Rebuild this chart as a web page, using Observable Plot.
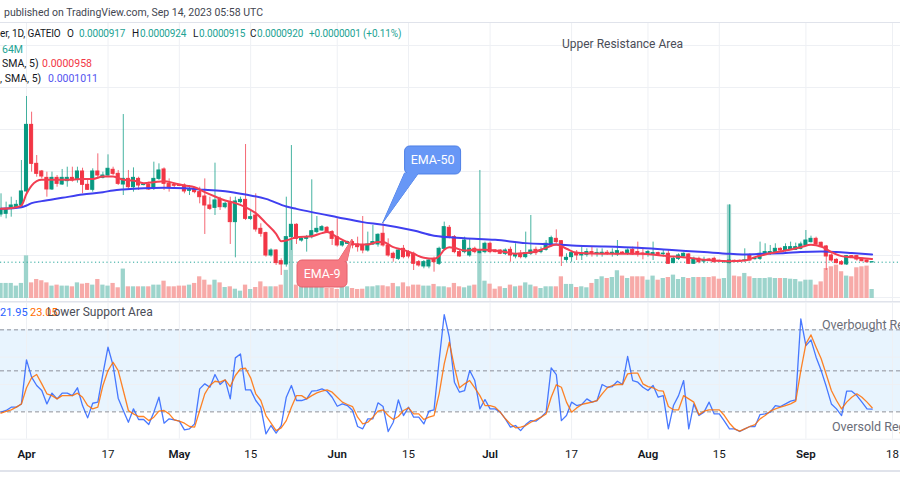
<!DOCTYPE html>
<html><head><meta charset="utf-8">
<script src="https://cdn.jsdelivr.net/npm/d3@7"></script>
<script src="https://cdn.jsdelivr.net/npm/@observablehq/plot@0.6"></script>
<style>
html,body{margin:0;padding:0;background:#fff}
#wrap{position:relative;width:900px;height:500px;overflow:hidden;font-family:Roboto,"Noto Sans",sans-serif;background:#fff}
.layer{position:absolute;left:0}
.t{position:absolute;white-space:nowrap;line-height:1;transform:translateY(-50%)}
.hl{position:absolute;left:0;width:900px}
</style></head>
<body><div id="wrap"></div>
<script>
// ---------- DATA ----------
// daily candles, first candle 2023-03-27 (day offset -5 from Apr 1), last 2023-09-14
const FIRST_DAY = "2023-03-27";
const PRICE_UNIT = 1e-7; // prices below are in units of 0.0000001
const opens = [1488,1496,1555,1575,1595,1762,2555,2091,2000,1924,
1786,1924,1845,1885,1924,1901,2000,1841,1782,2000,
1924,1952,2020,1972,1845,1912,1813,1912,1838,1841,
1793,1912,2024,1853,1838,1836,1833,1770,1782,1754,
1702,1595,1567,1662,1575,1623,1397,1635,1662,1436,
1476,1317,1266,1000,1059,932,893,1218,1365,1178,
1198,1218,1278,1297,1329,1278,1218,1119,1139,1159,
1131,1119,1059,1131,1131,1258,1119,1020,960,1079,
1040,1020,920,869,869,960,901,1079,1329,1218,
1040,1040,1000,1079,1028,1040,1139,1059,1059,1020,
1067,988,1020,980,1020,1067,1040,1067,1119,1198,
1170,948,980,1032,1000,1008,1040,1024,1026,1032,
1026,1012,1034,1020,1067,1040,1024,1008,1008,1028,
1016,1020,909,960,988,1012,901,960,928,952,
960,936,918,909,936,936,936,1000,956,960,
1012,1020,1020,1079,1059,1067,1067,1079,1119,1159,
1198,1151,1107,1000,948,920,893,992,992,960,
940,917];
const highs = [1734,1635,1694,1655,2131,2893,2706,2190,2012,1992,
1992,1952,2024,2051,2051,2051,2039,1893,2032,2210,
1992,2198,2051,2012,2678,2012,2043,1932,1855,1873,
2111,2091,2043,1912,1853,1845,1853,1833,1813,1813,
1912,1694,2099,1694,1635,1694,1694,1694,2321,1536,
1734,1377,1278,1079,1067,960,1694,2309,1377,1218,
1238,1901,1464,1357,1345,1297,1436,1178,1170,1178,
1218,1464,1278,1357,1258,1377,1198,1040,1079,1119,
1059,1040,940,940,960,980,1099,1397,1357,1238,
1059,1218,1198,1099,2012,1159,1159,1070,1070,1079,
1099,1139,1059,1278,1476,1099,1099,1178,1230,1305,
1178,1020,1040,1059,1099,1079,1099,1079,1079,1059,
1079,1178,1045,1079,1099,1159,1079,1059,1159,1040,
1059,1067,980,1020,1030,1020,980,980,980,965,
980,945,935,1603,945,945,1079,1020,975,1159,
1139,1119,1139,1090,1139,1159,1147,1159,1297,1230,
1218,1159,1119,1020,960,940,1000,1000,1000,970,
948,924];
const lows = [1456,1436,1456,1555,1575,1734,1992,1932,1912,1694,
1774,1813,1833,1813,1873,1861,1734,1774,1754,1912,
1912,1932,1952,1833,1714,1774,1754,1774,1830,1774,
1774,1893,1774,1754,1793,1820,1734,1714,1734,1615,
1250,1536,1476,1536,1555,1131,972,1615,1416,1416,
1278,1218,980,980,881,762,861,1059,1131,1159,
1040,1198,1258,1289,1270,1119,1099,1099,1130,1079,
1040,1020,1040,1119,1099,1099,980,920,940,960,
960,821,861,841,841,801,881,1059,1198,1020,
980,1020,980,1020,1020,1020,1020,1030,1010,1000,
920,960,960,960,1000,1000,1020,1051,1099,1139,
869,920,920,940,940,980,980,980,980,1000,
980,988,1015,1000,1000,980,948,980,940,1000,
980,893,901,940,980,893,893,901,901,935,
909,920,910,901,920,918,920,932,945,940,
1000,1000,1012,1050,1040,1059,1059,1067,1107,1147,
1119,1091,821,920,901,881,881,970,932,925,
915,915];
const closes = [1555,1555,1595,1603,1762,2555,2091,1972,1940,1786,
1924,1853,1924,1924,1893,2000,1841,1782,2000,1952,
1952,2032,1972,1853,1912,1813,1924,1833,1845,1786,
1912,2012,1853,1813,1830,1828,1762,1778,1754,1694,
1595,1555,1655,1575,1615,1397,1643,1662,1436,1456,
1309,1258,1000,1059,909,893,1218,1365,1198,1198,
1218,1289,1317,1337,1278,1198,1119,1159,1159,1119,
1099,1059,1131,1159,1246,1119,1000,968,1059,980,
988,901,881,920,940,920,1079,1337,1218,1040,
988,1178,1079,1040,1059,1139,1040,1040,1020,1059,
1000,1012,980,1028,1059,1028,1059,1139,1206,1159,
988,972,1028,1000,1020,1040,1020,1030,1032,1026,
1032,1051,1028,1059,1012,1012,1018,1040,1028,1008,
1022,901,960,1000,1020,901,960,920,935,945,
920,930,924,940,930,928,942,940,962,1020,
1040,1040,1079,1059,1099,1099,1099,1131,1178,1198,
1131,1099,988,940,909,893,992,980,952,932,
919,920];
// volume in millions
const volumes = [107,107,107,88,107,303,111,135,126,111,
88,95,88,88,83,111,102,107,95,135,
95,88,107,76,209,83,83,83,83,83,
95,95,123,83,83,88,88,95,107,154,
130,95,130,111,78,83,66,52,95,64,
78,118,83,83,83,95,200,415,95,83,
83,95,83,83,71,71,64,83,83,71,
64,66,83,83,90,90,83,107,83,111,
83,95,95,88,88,100,83,83,76,107,
83,76,88,95,320,123,102,66,83,71,
95,83,88,111,95,83,71,83,83,83,
154,100,100,78,83,76,107,135,154,142,
149,197,159,142,154,154,154,130,159,130,
142,149,166,135,149,142,149,149,149,149,
154,137,142,664,159,154,178,154,142,142,
142,147,142,142,142,137,135,118,130,130,
95,118,213,225,237,190,159,154,218,225,
230,64];
// oscillator (blue %K, orange %D)
const oscK = [19.8,21.0,23.4,23.4,25.8,58.0,45.4,39.3,35.6,25.8,
33.7,29.5,33.7,33.7,31.9,37.6,24.6,15.6,26.3,27.1,
47.8,67.3,53.9,30.0,21.0,12.4,22.2,14.4,14.4,10.7,
19.8,30.7,11.7,14.9,14.1,13.2,6.8,7.6,11.2,36.8,
40.5,38.0,47.3,40.0,43.4,29.5,59.5,62.4,36.1,36.1,
28.3,23.4,3.9,10.0,4.4,10.0,30.7,39.3,28.3,28.3,
29.5,35.1,35.6,36.8,35.1,30.7,24.1,25.8,24.6,21.0,
9.3,7.6,14.9,14.9,26.6,23.9,5.6,12.4,28.8,17.3,
23.4,16.1,16.1,11.2,20.5,21.5,57.6,91.2,74.6,41.7,
34.4,35.6,50.2,42.9,22.2,29.0,22.2,22.2,19.8,14.9,
8.8,10.0,6.3,10.7,13.6,13.2,16.1,19.8,52.2,47.3,
13.6,17.3,27.1,24.6,25.4,29.5,27.1,28.3,40.0,38.0,
38.5,42.4,40.0,60.5,42.9,41.7,38.0,35.6,39.3,30.7,
31.9,7.6,24.6,31.9,42.9,7.6,25.8,17.3,19.8,27.1,
18.5,18.5,13.2,7.6,7.6,5.6,7.6,9.3,9.3,18.0,
18.5,19.8,24.6,23.9,25.8,27.8,28.8,88.0,68.5,72.7,
60.0,50.2,38.5,25.8,22.2,17.3,35.1,35.1,31.9,27.1,
22.2,21.95];
const oscD = [19.0,20.3,21.5,23.5,25.8,37.6,44.9,47.3,40.5,33.2,
31.9,29.5,31.9,31.9,31.9,33.7,30.7,24.6,22.2,23.4,
39.3,50.2,56.3,50.2,35.6,21.0,18.5,16.6,16.6,13.6,
16.1,20.5,21.0,18.5,14.1,13.2,11.7,9.3,8.8,21.0,
33.2,39.3,42.4,41.7,43.4,38.5,46.6,51.5,51.9,44.9,
33.2,28.3,17.3,11.7,6.3,8.3,13.6,23.4,31.9,31.9,
29.5,31.9,33.9,35.1,36.1,34.4,30.7,27.1,25.4,23.9,
16.1,11.2,12.4,16.1,20.5,21.5,17.3,14.4,16.6,21.0,
22.9,18.5,18.5,14.4,16.1,17.3,33.2,55.1,71.0,52.7,
37.6,40.5,42.9,37.6,31.9,24.6,24.6,23.4,19.8,14.9,
11.2,8.3,8.8,10.0,12.4,14.1,16.1,18.5,30.7,39.8,
38.0,27.1,19.8,22.9,25.4,26.3,27.1,28.3,33.2,37.6,
39.3,40.0,40.0,47.8,48.3,48.3,40.5,38.5,37.6,35.6,
35.1,23.9,21.5,21.5,31.9,29.5,27.1,18.0,20.5,21.5,
21.5,21.5,17.3,11.7,7.6,5.9,7.6,9.3,10.7,14.9,
17.3,20.5,22.2,23.4,24.6,25.8,27.8,50.2,69.8,76.3,
67.3,58.8,47.3,35.6,28.3,22.2,27.1,30.7,33.2,30.7,
27.1,23.05];
// EMA lines: [day offset from 2023-04-01, price]
const ema9 = [[-5,1555],[-2,1575],[-1,1595],[0,1734],[1,1833],[2,1885],[3,1901],[5,1901],[7,1901],[9,1901],[11,1912],[13,1912],[15,1940],[17,1940],[19,1901],[21,1893],[23,1861],[25,1873],[27,1885],[29,1861],[31,1833],[33,1813],[35,1754],[37,1702],[39,1655],[41,1623],[43,1575],[45,1504],[47,1385],[49,1258],[50,1170],[51,1178],[53,1218],[56,1230],[58,1266],[59,1278],[61,1218],[63,1159],[65,1131],[67,1131],[69,1159],[70,1159],[72,1099],[74,1067],[76,1020],[78,972],[80,960],[81,992],[82,1067],[83,1099],[84,1091],[86,1059],[88,1067],[90,1067],[92,1059],[94,1040],[96,1020],[98,1028],[100,1047],[102,1091],[104,1131],[106,1080],[108,1032],[113,1020],[120,1020],[126,992],[130,972],[133,948],[138,932],[141,940],[143,980],[145,1012],[149,1059],[152,1099],[154,1127],[156,1107],[158,1040],[160,992],[162,980],[166,958]];
const ema50 = [[-5,1555],[-1,1575],[0,1595],[1,1623],[3,1647],[7,1686],[11,1726],[15,1754],[17,1774],[19,1786],[23,1801],[27,1805],[31,1801],[35,1782],[39,1766],[43,1726],[47,1674],[51,1583],[53,1555],[56,1516],[61,1456],[66,1397],[70,1365],[76,1297],[80,1236],[86,1206],[92,1186],[98,1147],[104,1131],[108,1115],[113,1107],[120,1091],[126,1067],[133,1040],[138,1020],[141,1012],[145,1020],[149,1028],[152,1042],[156,1047],[159,1040],[162,1028],[166,1011]];
const gridPrices = [500,1000,1500,2000,2500,3000,3500];
const tickDates = ["2023-04-01","2023-04-17","2023-05-01","2023-05-15","2023-06-01","2023-06-15","2023-07-01","2023-07-17","2023-08-01","2023-08-15","2023-09-01","2023-09-18"];
const tickLabels = ["Apr","17","May","15","Jun","15","Jul","17","Aug","15","Sep","18"];
const oscLevels = [80,50,20];
const oscGrid = [0,40,60,100];
const callouts = [
  {label:"EMA-50", date:"2023-06-10", price:1381, kind:"up"},
  {label:"EMA-9", date:"2023-06-04", price:1190, kind:"down"}
];

// ---------- SETUP ----------
const DAY = 864e5;
const day0 = Date.parse(FIRST_DAY + "T00:00Z");
const apr1 = Date.parse("2023-04-01T00:00Z");
const xDomain = [new Date("2023-03-26T21:30Z"), new Date("2023-09-19T13:40Z")];
const priceDomain = [440 * PRICE_UNIT, 3774 * PRICE_UNIT];
const UP = "#089981", DOWN = "#f23645", VUP = "#9dd4cc", VDOWN = "#f7aaa8", GRID = "#eef0f4";
const FONT = 'Roboto,"Noto Sans",sans-serif';

const candles = opens.map((o, i) => ({
  date: new Date(day0 + i * DAY),
  open: o * PRICE_UNIT, high: highs[i] * PRICE_UNIT, low: lows[i] * PRICE_UNIT,
  close: closes[i] * PRICE_UNIT, volume: volumes[i], k: oscK[i], d: oscD[i],
  up: closes[i] >= o
}));
const toRows = arr => arr.map(([d, p]) => ({date: new Date(apr1 + d * DAY), price: p * PRICE_UNIT}));
const ema9Rows = toRows(ema9), ema50Rows = toRows(ema50);
const ticks = tickDates.map((t, i) => ({date: new Date(t + "T00:00Z"), label: tickLabels[i], month: isNaN(+tickLabels[i])}));
const wrap = document.getElementById("wrap");
const half = (d, f) => new Date(+d + f * DAY);

function place(el, top) {
  el.classList.add("layer");
  el.style.top = top + "px";
  wrap.appendChild(el);
  return el;
}
function text(str, x, y, size, color, weight, spacing) {
  const s = document.createElement("div");
  s.className = "t";
  s.textContent = str;
  s.style.left = x + "px"; s.style.top = y + "px";
  s.style.fontSize = size + "px"; s.style.color = color;
  if (weight) s.style.fontWeight = weight;
  if (spacing) s.style.letterSpacing = spacing + "px";
  wrap.appendChild(s);
}
function hline(y, h, color) {
  const d = document.createElement("div");
  d.className = "hl";
  d.style.top = y + "px"; d.style.height = h + "px"; d.style.background = color;
  wrap.appendChild(d);
}
const base = {width: 900, marginTop: 0, marginBottom: 0, marginLeft: 0, marginRight: 0,
  style: {background: "transparent", overflow: "visible", fontFamily: FONT},
  x: {type: "utc", domain: xDomain, axis: null}, color: {type: "identity"}};

// Layer A: price-pane grid
place(Plot.plot({...base, height: 280,
  y: {domain: priceDomain, axis: null},
  marks: [
    Plot.ruleY(gridPrices.map(p => p * PRICE_UNIT), {stroke: GRID}),
    Plot.ruleX(ticks, {x: "date", stroke: GRID})
  ]}), 22);

// Layer B: volume
place(Plot.plot({...base, height: 100,
  y: {domain: [0, 710], axis: null},
  marks: [
    Plot.rect(candles, {x1: d => half(d.date, -0.42), x2: d => half(d.date, 0.42), y1: 0, y2: "volume",
      fill: d => d.up ? VUP : VDOWN})
  ]}), 198.3);

// Layer C: candles, EMAs
const pricePlot = Plot.plot({...base, height: 280,
  y: {domain: priceDomain, axis: null},
  marks: [
    Plot.ruleY([closes[closes.length - 1] * PRICE_UNIT], {stroke: "#26a69a", strokeDasharray: "1.2,2.6", strokeWidth: 1}),
    Plot.ruleX(candles, {x: "date", y1: "low", y2: "high", stroke: d => d.up ? UP : DOWN, strokeWidth: 1, strokeOpacity: 0.75}),
    Plot.rect(candles, {x1: d => half(d.date, -0.3), x2: d => half(d.date, 0.3), y1: "open", y2: "close",
      fill: d => d.up ? UP : DOWN, stroke: d => d.up ? UP : DOWN, strokeWidth: 1}),
    Plot.line(ema50Rows, {x: "date", y: "price", stroke: "#3f3ff0", strokeWidth: 2, curve: "monotone-x"}),
    Plot.line(ema9Rows, {x: "date", y: "price", stroke: "#f23f52", strokeWidth: 2, curve: "monotone-x"})
  ]});
place(pricePlot, 22);

// callouts anchored on data coordinates
(function () {
  const sx = pricePlot.scale("x"), sy = pricePlot.scale("y");
  const svg = d3.select(pricePlot);
  for (const c of callouts) {
    const tx = sx.apply(new Date(c.date + "T00:00Z")), ty = sy.apply(c.price * PRICE_UNIT);
    const g = svg.append("g");
    let rx0, ry0, w, h, wedge, fill, stroke;
    if (c.kind === "up") {
      rx0 = tx + 22; ry0 = ty - 77; w = 56; h = 28;
      wedge = [[tx, ty], [tx + 22, ty - 50], [tx + 36, ty - 50]];
      fill = "#6797f6"; stroke = "#4f80e6";
    } else {
      rx0 = tx - 55; ry0 = ty + 21; w = 50; h = 27;
      wedge = [[tx, ty], [tx - 14, ty + 22], [tx - 5, ty + 22]];
      fill = "#f67a83"; stroke = "#e55f6b";
    }
    g.append("path").attr("d", "M" + wedge.map(p => p.join(",")).join("L") + "Z")
      .attr("fill", fill).attr("stroke", stroke).attr("stroke-width", 1);
    g.append("rect").attr("x", rx0).attr("y", ry0).attr("width", w).attr("height", h)
      .attr("rx", 5).attr("fill", fill).attr("stroke", stroke).attr("stroke-width", 1);
    g.append("path").attr("d", "M" + wedge.map(p => p.join(",")).join("L") + "Z")
      .attr("fill", fill);
    g.append("text").attr("x", rx0 + w / 2).attr("y", ry0 + h / 2).attr("dy", "0.35em")
      .attr("text-anchor", "middle").attr("fill", "#fff").attr("font-size", 12.5)
      .attr("font-family", FONT).text(c.label);
  }
})();

// Oscillator pane + time axis
const rows = candles;
place(Plot.plot({...base, height: 168, marginBottom: 31.3,
  y: {domain: [0, 100], axis: null},
  marks: [
    Plot.rect([0], {y1: 20, y2: 80, fill: "#2196f3", fillOpacity: 0.1}),
    Plot.ruleX(ticks, {x: "date", stroke: GRID}),
    Plot.ruleY(oscGrid, {stroke: GRID}),
    Plot.ruleY(oscLevels, {stroke: "#8d909a", strokeDasharray: "4,3", strokeWidth: 1}),
    Plot.line(rows, {x: "date", y: "k", stroke: "#2962ff", strokeWidth: 1.3, strokeOpacity: 0.85}),
    Plot.line(rows, {x: "date", y: "d", stroke: "#ff6d00", strokeWidth: 1.3, strokeOpacity: 0.85}),
    Plot.text(ticks.filter(t => t.month), {x: "date", text: "label", frameAnchor: "bottom", dy: 19,
      fontSize: 11.5, fontWeight: 600, fill: "#131722", fontFamily: FONT}),
    Plot.text(ticks.filter(t => !t.month), {x: "date", text: "label", frameAnchor: "bottom", dy: 19,
      fontSize: 11.5, fill: "#131722", fontFamily: FONT})
  ]}), 302);

// separators
hline(21.5, 1, "#e0e3eb");
hline(300.5, 1.5, "#e0e3eb");
hline(469.5, 2, "#e0e3eb");

// header & legends
const TEAL = "#22a394", DARK = "#131722";
const LS = 10, SP = -0.15;
text("published on TradingView.com, Sep 14, 2023 05:58 UTC", 4, 13, 10.5, "#434651");
text("er, 1D, GATEIO", 0, 34, LS, DARK, null, SP);
text("O", 67, 34, LS, DARK, null, SP); text("0.0000917", 79, 34, LS, TEAL, null, SP);
text("H", 132, 34, LS, DARK, null, SP); text("0.0000924", 140, 34, LS, TEAL, null, SP);
text("L", 193, 34, LS, DARK, null, SP); text("0.0000915", 199, 34, LS, TEAL, null, SP);
text("C", 250, 34, LS, DARK, null, SP); text("0.0000920", 257, 34, LS, TEAL, null, SP);
text("+0.0000001 (+0.11%)", 309, 34, LS, TEAL, null, SP);
text("64M", 2, 50, 10.5, TEAL);
text("SMA, 5)", 2, 64, 10.5, DARK); text("0.0000958", 42, 64, 10.5, "#f23645");
text(", SMA, 5)", 0, 79, 10.5, DARK); text("0.0001011", 48, 79, 10.5, "#5353f0");
text("Upper Resistance Area", 562, 44, 12, "#4a4d57");
text("21.95", 0, 312, 11, "#2962ff");
text("23.05", 30, 312, 11, "#ff6d00");
text("Lower Support Area", 47, 312, 12, "#4a4d57");
text("Overbought Region", 822, 325, 12.5, "#6a6d78");
text("Oversold Region", 832, 427, 12.5, "#6a6d78");
</script></body></html>
